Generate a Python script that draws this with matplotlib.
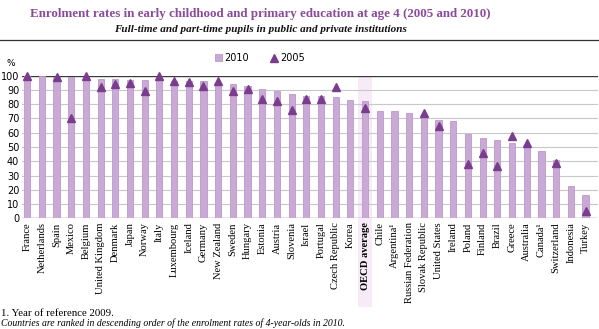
import matplotlib
matplotlib.use("Agg")
import matplotlib.pyplot as plt
from matplotlib.patches import Rectangle
from matplotlib.lines import Line2D
import numpy as np

countries = ["France", "Netherlands", "Spain", "Mexico", "Belgium", "United Kingdom",
             "Denmark", "Japan", "Norway", "Italy", "Luxembourg", "Iceland", "Germany",
             "New Zealand", "Sweden", "Hungary", "Estonia", "Austria", "Slovenia", "Israel",
             "Portugal", "Czech Republic", "Korea", "OECD average", "Chile", "Argentina¹",
             "Russian Federation", "Slovak Republic", "United States", "Ireland", "Poland",
             "Finland", "Brazil", "Greece", "Australia", "Canada¹", "Switzerland",
             "Indonesia", "Turkey"]

rate_2010 = [100, 100, 99, 99, 99, 98, 97.5, 97, 97, 97, 96, 96, 96, 94, 94, 93, 90.5,
             89, 87, 86, 86, 85, 83, 82, 75, 75, 74, 72, 69, 68, 59, 56, 55, 53, 50, 47,
             41, 23, 16]

rate_2005 = [100, None, 99, 70, 100, 92, 94, 95, 89, 100, 96.5, 95.5, 93, 96, 89, 91, 84,
             82, 76, 84, 84, 92, None, 77, None, None, None, 74, 65, None, 38, 46, 37,
             58, 53, None, 38.5, None, 5]

yticks = list(range(0, 101, 10))

bar_color = "#cba9d7"
bar_edge = "#bb98c9"
tri_color = "#7a3d8e"
title_color = "#8b4a9b"
band_color = "#f6ebf7"

W, H = 599, 329
fig = plt.figure(figsize=(W / 100, H / 100), dpi=100)

ax_left, ax_right = 22 / W, 598 / W
ax_bottom, ax_top = (H - 218.3) / H, (H - 75.7) / H
ax = fig.add_axes([ax_left, ax_bottom, ax_right - ax_left, ax_top - ax_bottom])

x = np.arange(len(countries))
oecd_idx = countries.index("OECD average")

# highlight band behind the OECD average, running down through its label
ax.add_patch(Rectangle((oecd_idx - 0.45, -0.62), 0.9, 1.62,
                       transform=ax.get_xaxis_transform(), facecolor=band_color,
                       edgecolor="none", clip_on=False, zorder=0))

for yv in yticks[1:-1]:
    ax.axhline(yv, color="#c8c8c8", lw=0.8, zorder=1)
ax.axhline(100, color="#3a3a3a", lw=1.0, zorder=1)
ax.axhline(0, color="#808080", lw=1.0, zorder=1)

ax.bar(x, rate_2010, width=0.42, color=bar_color, edgecolor=bar_edge, linewidth=0.6,
       zorder=2)

x05 = [xi for xi, v in zip(x, rate_2005) if v is not None]
y05 = [v for v in rate_2005 if v is not None]
ax.plot(x05, y05, linestyle="none", marker="^", markersize=5.5, color=tri_color,
        markeredgecolor=tri_color, zorder=3, clip_on=False)

ax.set_xlim(-0.35, 38.85)
ax.set_ylim(0, 100)
ax.set_yticks(yticks)
ax.set_yticklabels([str(v) for v in yticks], fontsize=7, family="DejaVu Sans")
ax.tick_params(axis="y", length=0, pad=2)
ax.set_xticks(x)
ax.set_xticklabels(countries, rotation=90, fontsize=7.6, family="Liberation Serif")
for lbl in ax.get_xticklabels():
    if lbl.get_text() == "OECD average":
        lbl.set_fontweight("bold")
ax.tick_params(axis="x", length=0, pad=3)
for s in ax.spines.values():
    s.set_visible(False)
ax.set_facecolor("none")

fig.text(11 / W, 1 - 63 / H, "%", fontsize=6.5, ha="center", va="center",
         family="DejaVu Sans")

# titles
fig.text(260 / W, 1 - 14 / H,
         "Enrolment rates in early childhood and primary education at age 4 (2005 and 2010)",
         fontsize=9.4, fontweight="bold", color=title_color, ha="center", va="center",
         family="Liberation Serif")
fig.text(260 / W, 1 - 29.5 / H,
         "Full-time and part-time pupils in public and private institutions",
         fontsize=8, fontweight="bold", style="italic", color="#111111",
         ha="center", va="center", family="Liberation Serif")
fig.add_artist(Line2D([0, 1], [1 - 40 / H, 1 - 40 / H], color="#333333", lw=0.9,
                      transform=fig.transFigure))

# legend
handles = [Rectangle((0, 0), 1, 1, facecolor=bar_color, edgecolor=bar_edge, lw=0.6),
           Line2D([], [], linestyle="none", marker="^", markersize=5.5, color=tri_color)]
fig.legend(handles, ["2010", "2005"], loc="center", bbox_to_anchor=(260 / W, 1 - 58 / H),
           ncol=2, frameon=False, handlelength=0.7, handleheight=0.7,
           handletextpad=0.3, columnspacing=2.2, prop={"family": "DejaVu Sans", "size": 7})

# footnotes
fig.text(1 / W, 1 - 313 / H, "1. Year of reference 2009.", fontsize=7.8,
         family="Liberation Serif", ha="left", va="center")
fig.text(1 / W, 1 - 323.5 / H,
         "Countries are ranked in descending order of the enrolment rates of 4-year-olds in 2010.",
         fontsize=7, style="italic", family="Liberation Serif", ha="left", va="center")

fig.savefig("out.png", dpi=100)
